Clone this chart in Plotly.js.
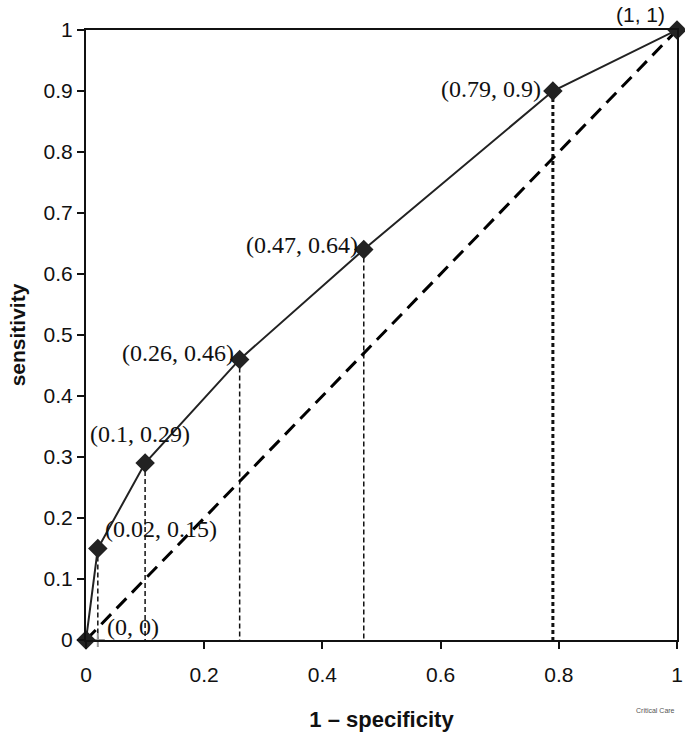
<!DOCTYPE html>
<html>
<head>
<meta charset="utf-8">
<script src="https://cdn.plot.ly/plotly-3.0.1.min.js"></script>
<style>
    html, body { margin: 0; padding: 0; background: #fff; }
    #grafico { width: 685px; height: 742px; }
</style>
</head>
<body>
<div id="grafico"></div>
<script>
// Datos de la curva ROC
const especificidad = [0, 0.02, 0.1, 0.26, 0.47, 0.79, 1]; // 1 - specificity
const sensibilidad = [0, 0.15, 0.29, 0.46, 0.64, 0.9, 1];
const etiquetas = ['(0, 0)', '(0.02, 0.15)', '(0.1, 0.29)', '(0.26, 0.46)', '(0.47, 0.64)', '(0.79, 0.9)', '(1, 1)'];
const diagonalX = [0, 1];
const diagonalY = [0, 1];

// Posicion de cada etiqueta respecto a su punto
const serif = 'Liberation Serif, Times New Roman, serif';
const sans = 'Liberation Sans, Arial, sans-serif';
const colocacion = [
    { xa: 'left', ya: 'middle', dx: 19, dy: 13, f: serif, s: 24 },
    { xa: 'left', ya: 'middle', dx: 5, dy: 20, f: serif, s: 24 },
    { xa: 'center', ya: 'middle', dx: -5, dy: 29, f: serif, s: 24 },
    { xa: 'right', ya: 'middle', dx: -4, dy: 6, f: serif, s: 24 },
    { xa: 'right', ya: 'middle', dx: -4, dy: 5, f: serif, s: 24 },
    { xa: 'right', ya: 'middle', dx: -10, dy: 2, f: serif, s: 24 },
    { xa: 'right', ya: 'middle', dx: -10, dy: 16, f: sans, s: 21 }
];

// Lineas punteadas verticales (la de 0.79 va aparte, mas gruesa)
const caidaX = [];
const caidaY = [];
for (let i = 1; i < especificidad.length - 1; i++) {
    if (especificidad[i] === 0.79) continue;
    caidaX.push(especificidad[i], especificidad[i], null);
    caidaY.push(sensibilidad[i], 0, null);
}
const iGruesa = especificidad.indexOf(0.79);

const caidas = {
    x: caidaX, y: caidaY,
    mode: 'lines', type: 'scatter',
    line: { color: '#111', width: 1.5, dash: '5px,3px' },
    hoverinfo: 'skip', showlegend: false
};

const caidaGruesa = {
    x: [especificidad[iGruesa], especificidad[iGruesa]],
    y: [sensibilidad[iGruesa], 0],
    mode: 'lines', type: 'scatter',
    line: { color: '#111', width: 3, dash: '4px,3px' },
    hoverinfo: 'skip', showlegend: false
};

const diagonal = {
    x: diagonalX, y: diagonalY,
    mode: 'lines', type: 'scatter',
    line: { color: '#000', width: 3, dash: '14px,8px' },
    cliponaxis: false, showlegend: false
};

const cruz = {
    x: [especificidad[1]], y: [0],
    mode: 'markers', type: 'scatter',
    marker: { symbol: 'cross-thin', size: 10, line: { color: '#999', width: 2 } },
    cliponaxis: false, showlegend: false
};

const curva = {
    x: especificidad, y: sensibilidad,
    mode: 'lines+markers', type: 'scatter',
    line: { color: '#222', width: 2 },
    marker: { symbol: 'diamond', size: 15, color: '#222' },
    cliponaxis: false, showlegend: false
};

const anotaciones = etiquetas.map((t, i) => ({
    x: especificidad[i], y: sensibilidad[i],
    xref: 'x', yref: 'y',
    text: t, showarrow: false,
    xanchor: colocacion[i].xa, yanchor: colocacion[i].ya,
    xshift: colocacion[i].dx, yshift: colocacion[i].dy,
    font: { family: colocacion[i].f, size: colocacion[i].s, color: '#111' }
}));

anotaciones.push({
    xref: 'paper', yref: 'paper', x: 1.0, y: -0.115,
    xanchor: 'right', yanchor: 'middle',
    text: 'Critical Care', showarrow: false,
    font: { family: sans, size: 7, color: '#555' }
});

const layout = {
    width: 685, height: 742,
    margin: { l: 86, r: 8, t: 30, b: 102 },
    paper_bgcolor: '#fff', plot_bgcolor: '#fff',
    font: { family: sans, color: '#111' },
    xaxis: {
        range: [0, 1], dtick: 0.2, tick0: 0,
        showgrid: false, zeroline: false,
        showline: true, linecolor: '#111', linewidth: 2, mirror: true,
        ticks: 'outside', ticklen: 7, tickwidth: 2, tickcolor: '#111',
        ticklabelstandoff: 8,
        tickfont: { size: 21 },
        title: { text: '<b>1 – specificity</b>', font: { size: 22 }, standoff: 26 }
    },
    yaxis: {
        range: [0, 1], dtick: 0.1, tick0: 0,
        showgrid: false, zeroline: false,
        showline: true, linecolor: '#111', linewidth: 2, mirror: true,
        ticks: 'outside', ticklen: 7, tickwidth: 2, tickcolor: '#111',
        tickfont: { size: 21 },
        title: { text: '<b>sensitivity</b>', font: { size: 21 }, standoff: 12 }
    },
    annotations: anotaciones
};

Plotly.newPlot('grafico', [caidas, caidaGruesa, diagonal, cruz, curva], layout, { staticPlot: true });
</script>
</body>
</html>
